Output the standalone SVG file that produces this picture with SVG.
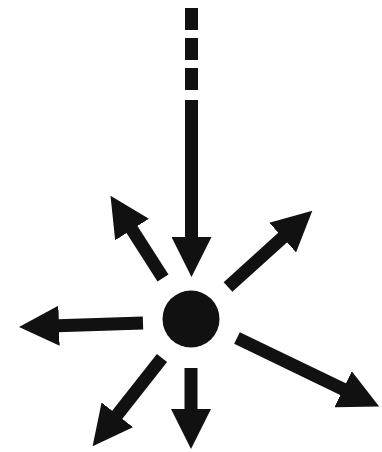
<svg xmlns="http://www.w3.org/2000/svg" width="382" height="452" viewBox="0 0 382 452">
<style>
.c{stroke:#111;stroke-width:13;fill:none;marker-end:url(#h)}
.d{fill:#111}
</style>
<defs>
<marker id="h" markerUnits="userSpaceOnUse" viewBox="0 0 40 40" markerWidth="40" markerHeight="40" refX="1" refY="20" orient="auto">
<path d="M0,0 L40,20 L0,40 z" fill="#111"/>
</marker>
</defs>
<rect width="382" height="452" fill="#fff"/>
<g id="connectors">
<rect class="d" x="185" y="8" width="13" height="22"/>
<rect class="d" x="185" y="38" width="13" height="22"/>
<rect class="d" x="185" y="68" width="13" height="22"/>
<line class="c" x1="191.5" y1="100" x2="191.5" y2="238"/>
<line class="c" x1="163" y1="278" x2="131.5" y2="228.7"/>
<line class="c" x1="228" y1="287" x2="283.4" y2="236.9"/>
<line class="c" x1="143" y1="323" x2="58" y2="325.7"/>
<line class="c" x1="237" y1="338" x2="344" y2="389.6"/>
<line class="c" x1="162" y1="358" x2="116.7" y2="415.6"/>
<line class="c" x1="191" y1="368" x2="191" y2="410"/>
</g>
<g id="center">
<circle cx="191" cy="319" r="28.5" fill="#111"/>
</g>
</svg>
